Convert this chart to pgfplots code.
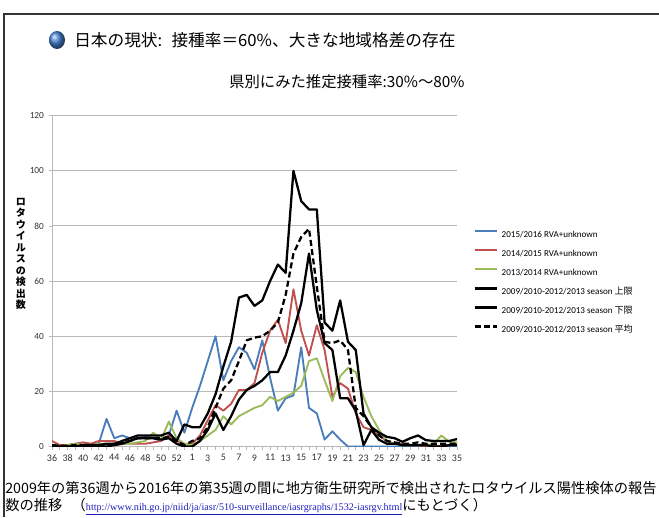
\documentclass[border=0pt]{standalone}
\usepackage{pgfplots}
\pgfplotsset{compat=1.18}
\usepackage{fontspec}
\setmainfont{Carlito}
\newfontfamily\jp{Noto Sans CJK JP}
\newfontfamily\serifen{Liberation Serif}
\definecolor{cblue}{RGB}{74,126,187}
\definecolor{cred}{RGB}{192,80,77}
\definecolor{cgreen}{RGB}{155,187,89}
\definecolor{cgrid}{RGB}{185,185,185}
\definecolor{curl}{RGB}{30,30,190}
\begin{document}
\begin{tikzpicture}[x=0.75pt,y=0.75pt]
\useasboundingbox (0,0) rectangle (659,517);
\draw[line width=1.2pt, black!80] (2.8pt,0pt) -- (2.8pt,377.2pt) -- (494.25pt,377.2pt);
\shade[ball color={rgb,255:red,70;green,130;blue,210}] (57,477) ellipse (8 and 9);
\node[anchor=west, inner sep=0pt, font=\jp\fontsize{12.5}{15}\selectfont] at (74,477) {日本の現状:\hspace{7pt}接種率＝60\%、大きな地域格差の存在};
\node[anchor=west, inner sep=0pt, font=\jp\fontsize{11.5}{14}\selectfont] at (229,435) {県別にみた推定接種率:30\%～80\%};
\node[inner sep=0pt, align=center, font=\jp\bfseries\fontsize{7.5}{8.6}\selectfont] at (21,263) {ロ\\タ\\ウ\\イ\\ル\\ス\\の\\検\\出\\数};
\begin{axis}[
  at={(39pt,52.875pt)}, anchor=south west, scale only axis,
  width=303.75pt, height=248.1pt,
  xmin=0, xmax=52, ymin=0, ymax=120,
  axis lines=left, axis line style={cgrid, line width=0.75pt, -},
  xtick={0,2,...,52},
  xticklabels={36,38,40,42,44,46,48,50,52,1,3,5,7,9,11,13,15,17,19,21,23,25,27,29,31,33,35},
  minor xtick={1,3,...,51},
  ytick={0,20,...,120}, yticklabels={0,20,40,60,80,100,120},
  ymajorgrids, grid style={cgrid, line width=0.75pt},
  tick align=outside, major tick length=2.5pt, minor tick length=2.5pt,
  tick style={cgrid, line width=0.6pt},
  xticklabel style={font=\fontsize{7.5}{9}\selectfont, text=black!80},
  yticklabel style={font=\fontsize{7}{9}\selectfont, text=black!80},
  every axis plot/.append style={line join=round},
  legend style={at={(1.04,0.655)}, anchor=north west, draw=none, fill=none,
    font=\fontsize{6.8}{8}\selectfont, inner sep=0pt,
    nodes={inner sep=0pt, text height=5.5pt, text depth=1.5pt},
    row sep=7.25pt, column sep=3pt},
  legend cell align=left,
  legend image code/.code={\draw[#1] (0pt,2.5pt) -- (16.5pt,2.5pt);},
]
\addplot[cblue, line width=1.4pt] coordinates {(0,0)(1,0)(2,0.5)(3,1)(4,0.5)(5,0.5)(6,1)(7,10)(8,3)(9,4)(10,3)(11,3)(12,3.5)(13,3)(14,2)(15,4)(16,13)(17,5)(18,14)(19,22)(20,31)(21,40)(22,24)(23,31)(24,36)(25,34)(26,28)(27,38.5)(28,25)(29,13)(30,17.5)(31,18.5)(32,36)(33,14)(34,12)(35,2.5)(36,5.5)(37,2.5)(38,0)(39,0)(40,0)(41,0)(42,0)(43,0)(44,0)(45,0)(46,0)(47,0)(48,0)(49,0)(50,0)(51,0)(52,0)};
\addlegendentry{2015/2016 RVA+unknown}
\addplot[cred, line width=1.4pt] coordinates {(0,2)(1,0.5)(2,0.5)(3,1)(4,1.5)(5,1)(6,2)(7,2)(8,2)(9,1)(10,1)(11,1)(12,1)(13,1.5)(14,2)(15,4)(16,2)(17,1)(18,1)(19,4)(20,9.5)(21,15)(22,13)(23,15.5)(24,20.5)(25,20.5)(26,23)(27,34)(28,42)(29,46)(30,37.5)(31,57)(32,42)(33,33)(34,44)(35,35)(36,18)(37,23)(38,21)(39,12)(40,7)(41,6)(42,4)(43,2)(44,1)(45,1)(46,0.5)(47,0.5)(48,0)(49,0.5)(50,0)(51,0.5)(52,1)};
\addlegendentry{2014/2015 RVA+unknown}
\addplot[cgreen, line width=1.4pt] coordinates {(0,0.5)(1,0)(2,0.5)(3,1)(4,0.5)(5,0.5)(6,1)(7,1)(8,0.5)(9,1)(10,1)(11,1.5)(12,2)(13,5)(14,2.5)(15,9)(16,3)(17,1)(18,0.5)(19,2)(20,4)(21,6)(22,11)(23,8)(24,11)(25,12.5)(26,14)(27,15)(28,18)(29,16.5)(30,18)(31,19.5)(32,22)(33,31)(34,32)(35,24)(36,16.5)(37,25.5)(38,28.5)(39,27)(40,18)(41,11)(42,6)(43,2)(44,1)(45,0.5)(46,0.5)(47,0.5)(48,0.5)(49,1)(50,4)(51,1.7)(52,1.5)};
\addlegendentry{2013/2014 RVA+unknown}
\addplot[black, line width=1.7pt] coordinates {(0,0)(1,0)(2,0)(3,0)(4,0.5)(5,0.5)(6,0.5)(7,1)(8,1)(9,2)(10,3)(11,4)(12,4)(13,4)(14,4)(15,5)(16,2)(17,8)(18,7)(19,7)(20,12)(21,19)(22,29)(23,38)(24,54)(25,55)(26,51)(27,53)(28,60)(29,66)(30,63)(31,100)(32,89)(33,86)(34,86)(35,45)(36,42)(37,53)(38,38)(39,35)(40,12)(41,7)(42,5)(43,3.5)(44,3)(45,1.7)(46,3)(47,4)(48,2.3)(49,2)(50,2)(51,2)(52,2.7)};
\addlegendentry{2009/2010-2012/2013 season {\jp 上限}}
\addplot[black, line width=1.7pt] coordinates {(0,0)(1,0)(2,0)(3,0)(4,0)(5,0)(6,0)(7,0)(8,0.5)(9,1)(10,2)(11,3)(12,3)(13,3)(14,2.5)(15,3)(16,1)(17,0)(18,0)(19,2)(20,6)(21,12)(22,6)(23,11)(24,17)(25,20.5)(26,22)(27,24)(28,27)(29,27)(30,33)(31,42)(32,52)(33,70)(34,49.5)(35,37.5)(36,35)(37,17.5)(38,17.5)(39,13)(40,0.5)(41,6)(42,2.4)(43,1)(44,1)(45,0.5)(46,0.5)(47,0.5)(48,0.5)(49,0)(50,0)(51,0.5)(52,0.5)};
\addlegendentry{2009/2010-2012/2013 season {\jp 下限}}
\addplot[black, line width=1.7pt, dash pattern=on 4.5pt off 2.5pt] coordinates {(0,0.5)(1,0.3)(2,0.3)(3,0.5)(4,0.5)(5,0.5)(6,0.5)(7,0.5)(8,1)(9,1.5)(10,2)(11,3)(12,3)(13,3)(14,3)(15,3.5)(16,2)(17,0.5)(18,2)(19,3)(20,7)(21,14)(22,21)(23,24)(24,31)(25,38.5)(26,39.5)(27,40)(28,42)(29,45)(30,55)(31,70)(32,76)(33,79)(34,58)(35,38)(36,37.5)(37,38.5)(38,35)(39,14)(40,11)(41,7)(42,4)(43,2)(44,1.5)(45,1)(46,1)(47,1.5)(48,1)(49,1)(50,1)(51,1)(52,1)};
\addlegendentry{2009/2010-2012/2013 season {\jp 平均}}
\end{axis}
\node[anchor=west, inner sep=0pt, font=\jp\fontsize{10.7}{12}\selectfont] at (5,29) {2009年の第36週から2016年の第35週の間に地方衛生研究所で検出されたロタウイルス陽性検体の報告};
\node[anchor=west, inner sep=0pt, font=\jp\fontsize{10.7}{12}\selectfont] at (5,10) {数の推移\hspace{7pt}（{\serifen\fontsize{7.6}{10}\selectfont\color{curl}\underline{http://www.nih.go.jp/niid/ja/iasr/510-surveillance/iasrgraphs/1532-iasrgv.html}}にもとづく）};
\end{tikzpicture}
\end{document}
